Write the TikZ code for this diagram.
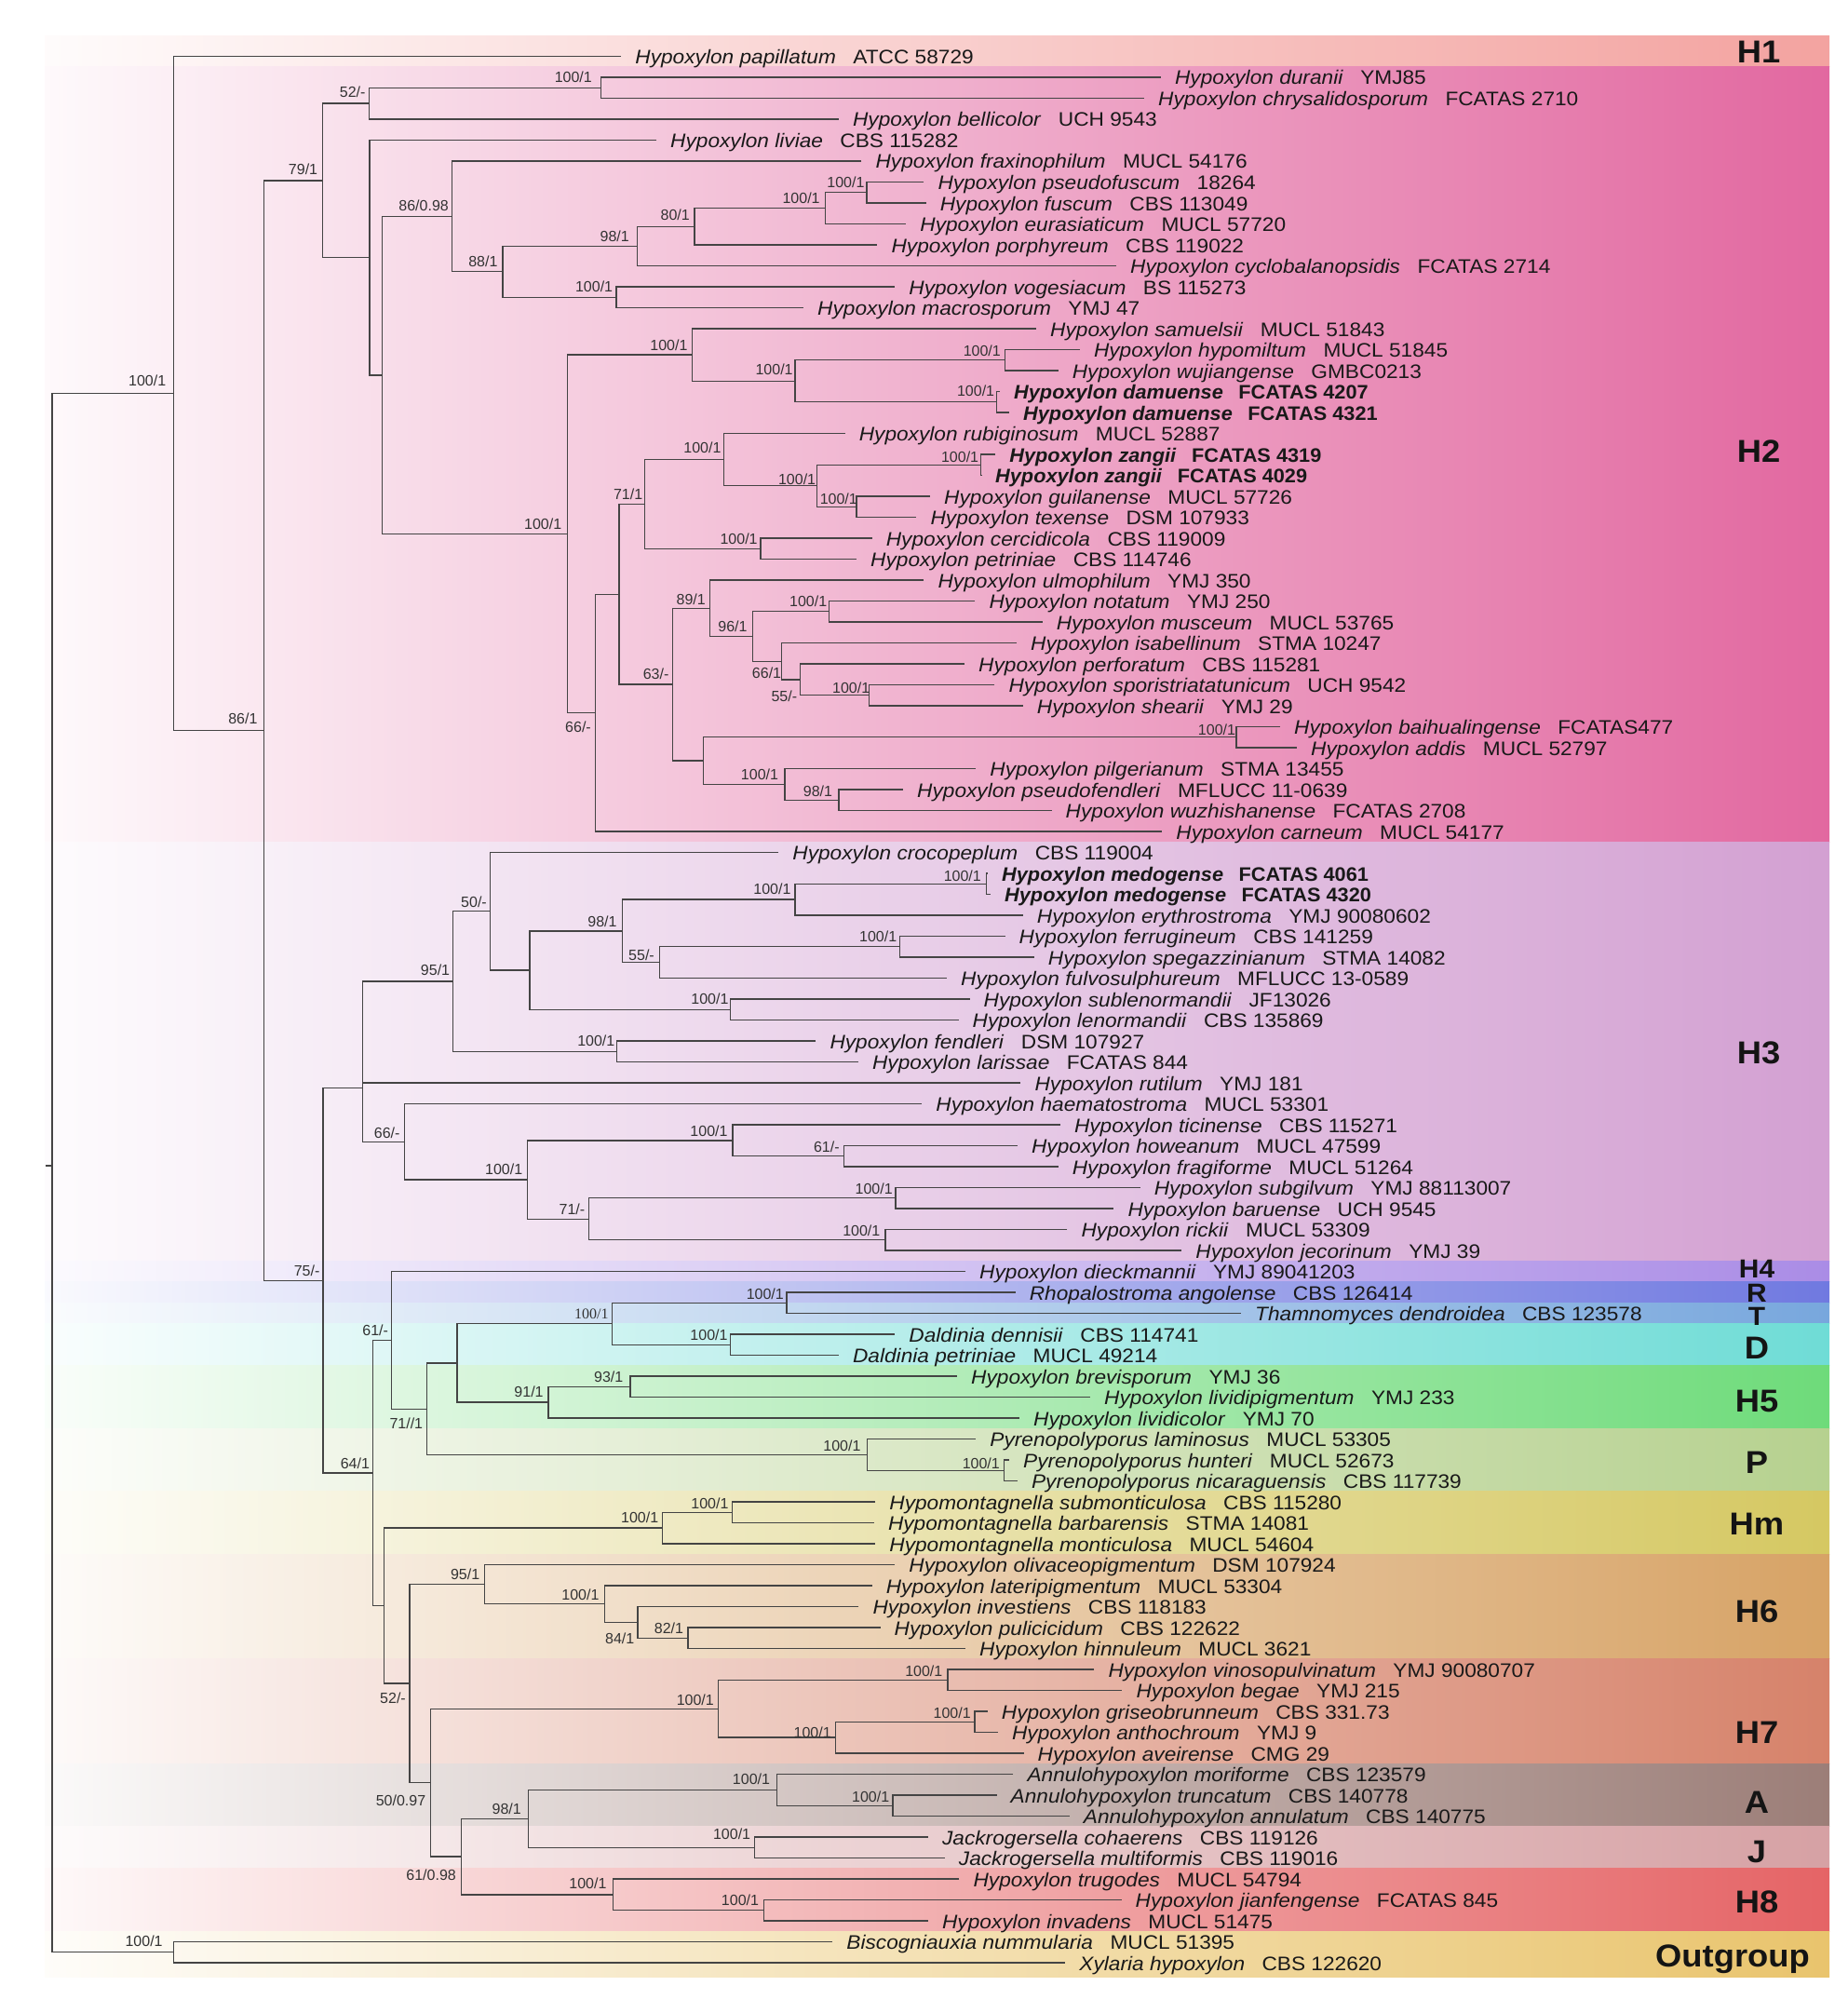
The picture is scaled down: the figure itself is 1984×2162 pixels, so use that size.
\documentclass[tikz,border=0pt]{standalone}
\usepackage{fontspec}
\setmainfont{Liberation Sans}
\newfontfamily\serifl{Liberation Serif}
\usepackage{graphicx}
\definecolor{cH1}{RGB}{243,163,160}
\definecolor{cH2}{RGB}{226,104,160}
\definecolor{cH3}{RGB}{211,160,210}
\definecolor{cH4}{RGB}{170,140,230}
\definecolor{cR}{RGB}{112,121,224}
\definecolor{cT}{RGB}{120,167,221}
\definecolor{cD}{RGB}{111,220,214}
\definecolor{cH5}{RGB}{110,219,122}
\definecolor{cP}{RGB}{182,209,143}
\definecolor{cHm}{RGB}{213,200,98}
\definecolor{cH6}{RGB}{215,163,102}
\definecolor{cH7}{RGB}{214,130,106}
\definecolor{cA}{RGB}{156,126,120}
\definecolor{cJ}{RGB}{214,161,164}
\definecolor{cH8}{RGB}{229,100,102}
\definecolor{cOut}{RGB}{233,196,109}
\definecolor{brc}{RGB}{68,68,68}
\tikzset{
  br/.style={draw=brc, line width=1.3pt},
  tiplab/.style={anchor=base west, inner sep=0pt, font=\fontsize{21}{21}\selectfont, text=black!90},
  suplab/.style={anchor=base east, inner sep=0pt, font=\fontsize{16}{16}\selectfont, text=black!80},
  cladelab/.style={anchor=base, inner sep=0pt, font=\bfseries\fontsize{34}{34}\selectfont, text=black!92},
  smallclade/.style={anchor=base, inner sep=0pt, font=\bfseries\fontsize{28}{28}\selectfont, text=black!92},
}
\newcommand\tip[5]{\coordinate (#1) at (#3,{60.5+22.5*(#2-1)});
  \node[tiplab] (#1-l) at ([xshift=15pt,yshift=-8pt]#1) {\scalebox{1.08}[1]{\textit{#4}\hspace{17pt}#5}};}
\newcommand\tipb[5]{\coordinate (#1) at (#3,{60.5+22.5*(#2-1)});
  \node[tiplab] (#1-l) at ([xshift=15pt,yshift=-8pt]#1) {\scalebox{1.035}[1]{\textbf{\textit{#4}}\hspace{16pt}\textbf{#5}}};}
\newcommand\cl[3]{\draw[br] (#2) -- (#1 |- #2) -- (#1 |- #3) -- (#3);}
\newcommand\blab[4]{\node[suplab] (#1) at (#2,#3) {#4};}
\newcommand\band[4]{\fill[left color=#2!4!white, right color=#2] (48,#3) rectangle (1965,#4); \coordinate (#1) at (1965,#3);}
\begin{document}
\begin{tikzpicture}[x=1pt,y=-1pt]
\useasboundingbox (0,0) rectangle (1984,2162);
\fill[white] (0,0) rectangle (1984,2162);
% bands
\band{bH1}{cH1}{38.6}{71.75}
\band{bH2}{cH2}{71.75}{904.25}
\band{bH3}{cH3}{904.25}{1354.25}
\band{bH4}{cH4}{1354.25}{1376.75}
\band{bR}{cR}{1376.75}{1399.25}
\band{bT}{cT}{1399.25}{1421.75}
\band{bD}{cD}{1421.75}{1466.75}
\band{bH5}{cH5}{1466.75}{1534.25}
\band{bP}{cP}{1534.25}{1601.75}
\band{bHm}{cHm}{1601.75}{1669.25}
\band{bH6}{cH6}{1669.25}{1781.75}
\band{bH7}{cH7}{1781.75}{1894.25}
\band{bA}{cA}{1894.25}{1961.75}
\band{bJ}{cJ}{1961.75}{2006.75}
\band{bH8}{cH8}{2006.75}{2074.25}
\band{bOut}{cOut}{2074.25}{2123}
% tips
\tip{t1}{1}{667.2}{Hypoxylon papillatum}{ATCC 58729}
\tip{t2}{2}{1246.9}{Hypoxylon duranii}{YMJ85}
\tip{t3}{3}{1229}{Hypoxylon chrysalidosporum}{FCATAS 2710}
\tip{t4}{4}{900.9}{Hypoxylon bellicolor}{UCH 9543}
\tip{t5}{5}{705}{Hypoxylon liviae}{CBS 115282}
\tip{t6}{6}{925.4}{Hypoxylon fraxinophilum}{MUCL 54176}
\tip{t7}{7}{992.4}{Hypoxylon pseudofuscum}{18264}
\tip{t8}{8}{994.6}{Hypoxylon fuscum}{CBS 113049}
\tip{t9}{9}{973.2}{Hypoxylon eurasiaticum}{MUCL 57720}
\tip{t10}{10}{942.4}{Hypoxylon porphyreum}{CBS 119022}
\tip{t11}{11}{1199}{Hypoxylon cyclobalanopsidis}{FCATAS 2714}
\tip{t12}{12}{961.2}{Hypoxylon vogesiacum}{BS 115273}
\tip{t13}{13}{863}{Hypoxylon macrosporum}{YMJ 47}
\tip{t14}{14}{1113}{Hypoxylon samuelsii}{MUCL 51843}
\tip{t15}{15}{1159.8}{Hypoxylon hypomiltum}{MUCL 51845}
\tip{t16}{16}{1136.6}{Hypoxylon wujiangense}{GMBC0213}
\tipb{t17}{17}{1074}{Hypoxylon damuense}{FCATAS 4207}
\tipb{t18}{18}{1084}{Hypoxylon damuense}{FCATAS 4321}
\tip{t19}{19}{907.6}{Hypoxylon rubiginosum}{MUCL 52887}
\tipb{t20}{20}{1069.2}{Hypoxylon zangii}{FCATAS 4319}
\tipb{t21}{21}{1054}{Hypoxylon zangii}{FCATAS 4029}
\tip{t22}{22}{999}{Hypoxylon guilanense}{MUCL 57726}
\tip{t23}{23}{984.4}{Hypoxylon texense}{DSM 107933}
\tip{t24}{24}{936.6}{Hypoxylon cercidicola}{CBS 119009}
\tip{t25}{25}{920}{Hypoxylon petriniae}{CBS 114746}
\tip{t26}{26}{992.4}{Hypoxylon ulmophilum}{YMJ 350}
\tip{t27}{27}{1047.3}{Hypoxylon notatum}{YMJ 250}
\tip{t28}{28}{1119.6}{Hypoxylon musceum}{MUCL 53765}
\tip{t29}{29}{1092}{Hypoxylon isabellinum}{STMA 10247}
\tip{t30}{30}{1036}{Hypoxylon perforatum}{CBS 115281}
\tip{t31}{31}{1068.3}{Hypoxylon sporistriatatunicum}{UCH 9542}
\tip{t32}{32}{1098.7}{Hypoxylon shearii}{YMJ 29}
\tip{t33}{33}{1375}{Hypoxylon baihualingense}{FCATAS477}
\tip{t34}{34}{1393}{Hypoxylon addis}{MUCL 52797}
\tip{t35}{35}{1048.2}{Hypoxylon pilgerianum}{STMA 13455}
\tip{t36}{36}{970}{Hypoxylon pseudofendleri}{MFLUCC 11-0639}
\tip{t37}{37}{1129.5}{Hypoxylon wuzhishanense}{FCATAS 2708}
\tip{t38}{38}{1248.2}{Hypoxylon carneum}{MUCL 54177}
\tip{t39}{39}{836.2}{Hypoxylon crocopeplum}{CBS 119004}
\tipb{t40}{40}{1061}{Hypoxylon medogense}{FCATAS 4061}
\tipb{t41}{41}{1064}{Hypoxylon medogense}{FCATAS 4320}
\tip{t42}{42}{1098.7}{Hypoxylon erythrostroma}{YMJ 90080602}
\tip{t43}{43}{1079.5}{Hypoxylon ferrugineum}{CBS 141259}
\tip{t44}{44}{1110.7}{Hypoxylon spegazzinianum}{STMA 14082}
\tip{t45}{45}{1017}{Hypoxylon fulvosulphureum}{MFLUCC 13-0589}
\tip{t46}{46}{1041.5}{Hypoxylon sublenormandii}{JF13026}
\tip{t47}{47}{1029.5}{Hypoxylon lenormandii}{CBS 135869}
\tip{t48}{48}{876.3}{Hypoxylon fendleri}{DSM 107927}
\tip{t49}{49}{921.9}{Hypoxylon larissae}{FCATAS 844}
\tip{t50}{50}{1096.4}{Hypoxylon rutilum}{YMJ 181}
\tip{t51}{51}{990.2}{Hypoxylon haematostroma}{MUCL 53301}
\tip{t52}{52}{1138.8}{Hypoxylon ticinense}{CBS 115271}
\tip{t53}{53}{1092.9}{Hypoxylon howeanum}{MUCL 47599}
\tip{t54}{54}{1136.6}{Hypoxylon fragiforme}{MUCL 51264}
\tip{t55}{55}{1224.6}{Hypoxylon subgilvum}{YMJ 88113007}
\tip{t56}{56}{1196.4}{Hypoxylon baruense}{UCH 9545}
\tip{t57}{57}{1146.4}{Hypoxylon rickii}{MUCL 53309}
\tip{t58}{58}{1269.2}{Hypoxylon jecorinum}{YMJ 39}
\tip{t59}{59}{1037}{Hypoxylon dieckmannii}{YMJ 89041203}
\tip{t60}{60}{1090.6}{Rhopalostroma angolense}{CBS 126414}
\tip{t61}{61}{1333}{Thamnomyces dendroidea}{CBS 123578}
\tip{t62}{62}{961.2}{Daldinia dennisii}{CBS 114741}
\tip{t63}{63}{900.9}{Daldinia petriniae}{MUCL 49214}
\tip{t64}{64}{1028}{Hypoxylon brevisporum}{YMJ 36}
\tip{t65}{65}{1171}{Hypoxylon lividipigmentum}{YMJ 233}
\tip{t66}{66}{1095}{Hypoxylon lividicolor}{YMJ 70}
\tip{t67}{67}{1048.2}{Pyrenopolyporus laminosus}{MUCL 53305}
\tip{t68}{68}{1084}{Pyrenopolyporus hunteri}{MUCL 52673}
\tip{t69}{69}{1092.9}{Pyrenopolyporus nicaraguensis}{CBS 117739}
\tip{t70}{70}{940.2}{Hypomontagnella submonticulosa}{CBS 115280}
\tip{t71}{71}{938.8}{Hypomontagnella barbarensis}{STMA 14081}
\tip{t72}{72}{940.2}{Hypomontagnella monticulosa}{MUCL 54604}
\tip{t73}{73}{961.2}{Hypoxylon olivaceopigmentum}{DSM 107924}
\tip{t74}{74}{936.6}{Hypoxylon lateripigmentum}{MUCL 53304}
\tip{t75}{75}{922.3}{Hypoxylon investiens}{CBS 118183}
\tip{t76}{76}{945.5}{Hypoxylon pulicicidum}{CBS 122622}
\tip{t77}{77}{1037}{Hypoxylon hinnuleum}{MUCL 3621}
\tip{t78}{78}{1175.4}{Hypoxylon vinosopulvinatum}{YMJ 90080707}
\tip{t79}{79}{1205.4}{Hypoxylon begae}{YMJ 215}
\tip{t80}{80}{1060.7}{Hypoxylon griseobrunneum}{CBS 331.73}
\tip{t81}{81}{1071.9}{Hypoxylon anthochroum}{YMJ 9}
\tip{t82}{82}{1099.5}{Hypoxylon aveirense}{CMG 29}
\tip{t83}{83}{1088.4}{Annulohypoxylon moriforme}{CBS 123579}
\tip{t84}{84}{1070.5}{Annulohypoxylon truncatum}{CBS 140778}
\tip{t85}{85}{1148.7}{Annulohypoxylon annulatum}{CBS 140775}
\tip{t86}{86}{996.9}{Jackrogersella cohaerens}{CBS 119126}
\tip{t87}{87}{1014.7}{Jackrogersella multiformis}{CBS 119016}
\tip{t88}{88}{1030.4}{Hypoxylon trugodes}{MUCL 54794}
\tip{t89}{89}{1204.5}{Hypoxylon jianfengense}{FCATAS 845}
\tip{t90}{90}{996.9}{Hypoxylon invadens}{MUCL 51475}
\tip{t91}{91}{894.2}{Biscogniauxia nummularia}{MUCL 51395}
\tip{t92}{92}{1144.2}{Xylaria hypoxylon}{CBS 122620}
% internal nodes
\coordinate (root) at (56,1252);
\coordinate (rtk) at (49,1252);
\coordinate (outg) at (186.4,2096.75);
\coordinate (ing) at (186.4,422.5);
\coordinate (n86) at (283.3,784.5);
\coordinate (n79) at (346.7,193.9);
\coordinate (n52) at (396.2,111.1);
\coordinate (nDur) at (645.4,94.25);
\coordinate (nLiv) at (397,276.7);
\coordinate (nA) at (410.5,402.9);
\coordinate (n8698) at (485.5,232.4);
\coordinate (n88) at (540,291.8);
\coordinate (n98) at (684.2,264.4);
\coordinate (n80) at (746,243.3);
\coordinate (nEur) at (886.6,223.6);
\coordinate (nPsf) at (931,206.75);
\coordinate (nVog) at (661.9,319.25);
\coordinate (nB) at (609.2,573.35);
\coordinate (nSam) at (743.3,381.1);
\coordinate (nWuj) at (854,409.25);
\coordinate (nHyp) at (1079.5,386.75);
\coordinate (nDam) at (1070.5,431.75);
\coordinate (n66a) at (639.5,765.6);
\coordinate (nC) at (665,638.25);
\coordinate (n71) at (692.7,541.4);
\coordinate (nRub) at (777.2,493.6);
\coordinate (nZG) at (877.2,521.75);
\coordinate (nZan) at (1053.6,499.25);
\coordinate (nGui) at (920,544.25);
\coordinate (nCer) at (817,589.25);
\coordinate (n63) at (722.3,735.1);
\coordinate (n89) at (762.5,653.2);
\coordinate (n96) at (808.5,683.5);
\coordinate (nNot) at (890.6,656.75);
\coordinate (n661) at (839.3,710.2);
\coordinate (n55a) at (859.4,729.9);
\coordinate (nSpo) at (933.5,746.75);
\coordinate (nE) at (755.8,817.1);
\coordinate (nBai) at (1328,791.75);
\coordinate (nPil) at (842.9,842.4);
\coordinate (nPsd) at (900.9,859.25);
\coordinate (n75) at (347.1,1375.15);
\coordinate (nPoly) at (389.5,1168.3);
\coordinate (n95) at (486.4,1054);
\coordinate (n50) at (526.6,978.8);
\coordinate (nF) at (569,1042.1);
\coordinate (n98b) at (668.6,999.9);
\coordinate (nMed) at (854,966.1);
\coordinate (nMed2) at (1059.4,949.25);
\coordinate (n55b) at (708.3,1033.6);
\coordinate (nFer) at (966.5,1016.75);
\coordinate (nSub) at (784.8,1084.25);
\coordinate (nFen) at (662.7,1129.25);
\coordinate (n66b) at (434.2,1226.3);
\coordinate (nG) at (566.8,1267.1);
\coordinate (nTic) at (787,1224.9);
\coordinate (n61a) at (906.7,1241.75);
\coordinate (n71b) at (632.4,1309.25);
\coordinate (nSg) at (962,1286.75);
\coordinate (nRic) at (950.9,1331.75);
\coordinate (n64) at (400.3,1582);
\coordinate (n61b) at (420.8,1439.3);
\coordinate (n71c) at (458.8,1513.15);
\coordinate (nI) at (490.9,1463.9);
\coordinate (nRTD) at (657.4,1421.75);
\coordinate (nRT) at (845,1399.25);
\coordinate (nD) at (784.8,1444.25);
\coordinate (n91) at (589.1,1506.1);
\coordinate (n93) at (677,1489.25);
\coordinate (nP) at (931.3,1562.4);
\coordinate (nHun) at (1078.6,1579.25);
\coordinate (nH) at (412.8,1724.6);
\coordinate (nHm) at (711.5,1641.1);
\coordinate (nHm2) at (786.2,1624.25);
\coordinate (n52b) at (440,1808.1);
\coordinate (n95b) at (520.4,1701.6);
\coordinate (nH6) at (649.4,1722.7);
\coordinate (n84) at (685,1742.4);
\coordinate (n82) at (739,1759.25);
\coordinate (n5097) at (462.3,1914.65);
\coordinate (nH7) at (771.4,1835.2);
\coordinate (nVin) at (1017.9,1804.25);
\coordinate (nAv) at (897.8,1866.1);
\coordinate (nGri) at (1046.9,1849.25);
\coordinate (n6198) at (495.4,1994.1);
\coordinate (nAJ) at (567.7,1953.3);
\coordinate (nAnn) at (834.8,1922.4);
\coordinate (nTru) at (958.9,1939.25);
\coordinate (nJ) at (810.7,1984.25);
\coordinate (nH8) at (658.3,2034.9);
\coordinate (nJia) at (820.5,2051.75);
% branches
\draw[br] (rtk) -- (root);
\cl{root}{ing}{outg}
\cl{outg}{t91}{t92}
\cl{ing}{t1}{n86}
\cl{n86}{n79}{n75}
\cl{n79}{n52}{nLiv}
\cl{n52}{nDur}{t4}
\cl{nDur}{t2}{t3}
\cl{nLiv}{t5}{nA}
\cl{nA}{n8698}{nB}
\cl{n8698}{t6}{n88}
\cl{n88}{n98}{nVog}
\cl{n98}{n80}{t11}
\cl{n80}{nEur}{t10}
\cl{nEur}{nPsf}{t9}
\cl{nPsf}{t7}{t8}
\cl{nVog}{t12}{t13}
\cl{nB}{nSam}{n66a}
\cl{nSam}{t14}{nWuj}
\cl{nWuj}{nHyp}{nDam}
\cl{nHyp}{t15}{t16}
\cl{nDam}{t17}{t18}
\cl{n66a}{nC}{t38}
\cl{nC}{n71}{n63}
\cl{n71}{nRub}{nCer}
\cl{nRub}{t19}{nZG}
\cl{nZG}{nZan}{nGui}
\cl{nZan}{t20}{t21}
\cl{nGui}{t22}{t23}
\cl{nCer}{t24}{t25}
\cl{n63}{n89}{nE}
\cl{n89}{t26}{n96}
\cl{n96}{nNot}{n661}
\cl{nNot}{t27}{t28}
\cl{n661}{t29}{n55a}
\cl{n55a}{t30}{nSpo}
\cl{nSpo}{t31}{t32}
\cl{nE}{nBai}{nPil}
\cl{nBai}{t33}{t34}
\cl{nPil}{t35}{nPsd}
\cl{nPsd}{t36}{t37}
\cl{n75}{nPoly}{n64}
\cl{nPoly}{n95}{n66b}
\draw[br] (nPoly |- t50) -- (t50);
\cl{n95}{n50}{nFen}
\cl{n50}{t39}{nF}
\cl{nF}{n98b}{nSub}
\cl{n98b}{nMed}{n55b}
\cl{nMed}{nMed2}{t42}
\cl{nMed2}{t40}{t41}
\cl{n55b}{nFer}{t45}
\cl{nFer}{t43}{t44}
\cl{nSub}{t46}{t47}
\cl{nFen}{t48}{t49}
\cl{n66b}{t51}{nG}
\cl{nG}{nTic}{n71b}
\cl{nTic}{t52}{n61a}
\cl{n61a}{t53}{t54}
\cl{n71b}{nSg}{nRic}
\cl{nSg}{t55}{t56}
\cl{nRic}{t57}{t58}
\cl{n64}{n61b}{nH}
\cl{n61b}{t59}{n71c}
\cl{n71c}{nI}{nP}
\cl{nI}{nRTD}{n91}
\cl{nRTD}{nRT}{nD}
\cl{nRT}{t60}{t61}
\cl{nD}{t62}{t63}
\cl{n91}{n93}{t66}
\cl{n93}{t64}{t65}
\cl{nP}{t67}{nHun}
\cl{nHun}{t68}{t69}
\cl{nH}{nHm}{n52b}
\cl{nHm}{nHm2}{t72}
\cl{nHm2}{t70}{t71}
\cl{n52b}{n95b}{n5097}
\cl{n95b}{t73}{nH6}
\cl{nH6}{t74}{n84}
\cl{n84}{t75}{n82}
\cl{n82}{t76}{t77}
\cl{n5097}{nH7}{n6198}
\cl{nH7}{nVin}{nAv}
\cl{nVin}{t78}{t79}
\cl{nAv}{nGri}{t82}
\cl{nGri}{t80}{t81}
\cl{n6198}{nAJ}{nH8}
\cl{nAJ}{nAnn}{nJ}
\cl{nAnn}{t83}{nTru}
\cl{nTru}{t84}{t85}
\cl{nJ}{t86}{t87}
\cl{nH8}{t88}{nJia}
\cl{nJia}{t89}{t90}
% support labels
\blab{s-ing}{178.4}{414}{100/1}
\blab{s-outg}{174.8}{2090.7}{100/1}
\blab{s-n86}{276.6}{777.3}{86/1}
\blab{s-n79}{341.3}{187.3}{79/1}
\blab{s-n52}{392.7}{105}{52/-}
\blab{s-nDur}{636}{88.3}{100/1}
\blab{s-n8698}{482}{226.7}{86/0.98}
\blab{s-n88}{534.6}{286.7}{88/1}
\blab{s-n98}{676}{259.3}{98/1}
\blab{s-n80}{741}{236.7}{80/1}
\blab{s-nEur}{880.8}{218.3}{100/1}
\blab{s-nPsf}{928.6}{201.7}{100/1}
\blab{s-nVog}{658.3}{313.3}{100/1}
\blab{s-nSam}{738.6}{376.7}{100/1}
\blab{s-nHyp}{1075}{382.7}{100/1}
\blab{s-nWuj}{851.8}{402.7}{100/1}
\blab{s-nDam}{1068.3}{425}{100/1}
\blab{s-nB}{603.4}{568.3}{100/1}
\blab{s-nRub}{774.6}{486.7}{100/1}
\blab{s-nZG}{876.3}{520}{100/1}
\blab{s-nZan}{1051.3}{496}{100/1}
\blab{s-nGui}{921}{541.7}{100/1}
\blab{s-nCer}{813.8}{584.3}{100/1}
\blab{s-n71}{690.4}{536.7}{71/1}
\blab{s-n63}{718.6}{729}{63/-}
\blab{s-n66a}{635}{786}{66/-}
\blab{s-n89}{758}{649.3}{89/1}
\blab{s-n96}{802.7}{678.3}{96/1}
\blab{s-nNot}{888.4}{651}{100/1}
\blab{s-n661}{839.3}{728.3}{66/1}
\blab{s-n55a}{856.3}{753.3}{55/-}
\blab{s-nSpo}{934.4}{744.3}{100/1}
\blab{s-nBai}{1327.2}{789.3}{100/1}
\blab{s-nPil}{836.2}{837.3}{100/1}
\blab{s-nPsd}{894.2}{855}{98/1}
\blab{s-n50}{523}{974}{50/-}
\blab{s-n95}{483.3}{1047.3}{95/1}
\blab{s-n98b}{662.7}{995}{98/1}
\blab{s-n55b}{703}{1031.7}{55/-}
\blab{s-nMed}{849.6}{960.7}{100/1}
\blab{s-nMed2}{1054}{946}{100/1}
\blab{s-nFer}{963.4}{1011}{100/1}
\blab{s-nSub}{782.6}{1078.3}{100/1}
\blab{s-nFen}{660.5}{1123}{100/1}
\blab{s-n66b}{429.7}{1222.3}{66/-}
\blab{s-nG}{561.4}{1261.7}{100/1}
\blab{s-n71b}{628.4}{1304}{71/-}
\blab{s-nTic}{781.7}{1220}{100/1}
\blab{s-n61a}{901.8}{1237.7}{61/-}
\blab{s-nSg}{958.9}{1282.3}{100/1}
\blab{s-nRic}{945.5}{1327.3}{100/1}
\blab{s-n75}{343.6}{1370}{75/-}
\blab{s-n61b}{417.2}{1434}{61/-}
\node[suplab, font=\serifl\fontsize{16}{16}\selectfont] (s-nRTD) at (653.8,1416) {100/1};
\blab{s-nRT}{842}{1395}{100/1}
\blab{s-nD}{781.7}{1439.3}{100/1}
\blab{s-n93}{669.5}{1484}{93/1}
\blab{s-n91}{583.8}{1500.7}{91/1}
\blab{s-n71c}{454.3}{1534}{71//1}
\blab{s-nP}{924.6}{1558.3}{100/1}
\blab{s-nHun}{1074}{1577.3}{100/1}
\blab{s-n64}{397.1}{1577.3}{64/1}
\blab{s-nHm}{707.4}{1635.7}{100/1}
\blab{s-nHm2}{782.6}{1620}{100/1}
\blab{s-n95b}{515.4}{1696}{95/1}
\blab{s-nH6}{643.6}{1718.3}{100/1}
\blab{s-n84}{681.5}{1765.7}{84/1}
\blab{s-n82}{734.2}{1754}{82/1}
\blab{s-n52b}{436}{1829}{52/-}
\blab{s-nH7}{767}{1831}{100/1}
\blab{s-nVin}{1012.5}{1800}{100/1}
\blab{s-nAv}{892.9}{1866}{100/1}
\blab{s-nGri}{1042.9}{1845}{100/1}
\blab{s-n5097}{457.4}{1939}{50/0.97}
\blab{s-nAJ}{560}{1948.3}{98/1}
\blab{s-nAnn}{827.2}{1916.7}{100/1}
\blab{s-nTru}{955.4}{1935}{100/1}
\blab{s-nJ}{806.3}{1975.7}{100/1}
\blab{s-n6198}{490}{2019}{61/0.98}
\blab{s-nH8}{651.6}{2028.3}{100/1}
\blab{s-nJia}{815.2}{2046}{100/1}
% clade labels
\node[cladelab] (L-H1) at (1889,68) {\scalebox{1.07}[1]{H1}};
\node[cladelab] (L-H2) at (1889,496) {\scalebox{1.07}[1]{H2}};
\node[cladelab] (L-H3) at (1889,1142.5) {\scalebox{1.07}[1]{H3}};
\node[smallclade] (L-H4) at (1887,1372) {\scalebox{1.07}[1]{H4}};
\node[smallclade] (L-R) at (1887,1398) {\scalebox{1.07}[1]{R}};
\node[smallclade] (L-T) at (1887,1423) {\scalebox{1.07}[1]{T}};
\node[cladelab] (L-D) at (1887,1459.6) {\scalebox{1.07}[1]{D}};
\node[cladelab] (L-H5) at (1887,1516) {\scalebox{1.07}[1]{H5}};
\node[cladelab] (L-P) at (1887,1582) {\scalebox{1.07}[1]{P}};
\node[cladelab] (L-Hm) at (1887,1648.5) {\scalebox{1.07}[1]{Hm}};
\node[cladelab] (L-H6) at (1887,1742) {\scalebox{1.07}[1]{H6}};
\node[cladelab] (L-H7) at (1887,1872) {\scalebox{1.07}[1]{H7}};
\node[cladelab] (L-A) at (1887,1947.7) {\scalebox{1.07}[1]{A}};
\node[cladelab] (L-J) at (1887,2000) {\scalebox{1.07}[1]{J}};
\node[cladelab] (L-H8) at (1887,2054) {\scalebox{1.07}[1]{H8}};
\node[cladelab] (L-Out) at (1861,2112) {\scalebox{1.07}[1]{Outgroup}};
\end{tikzpicture}
\end{document}
